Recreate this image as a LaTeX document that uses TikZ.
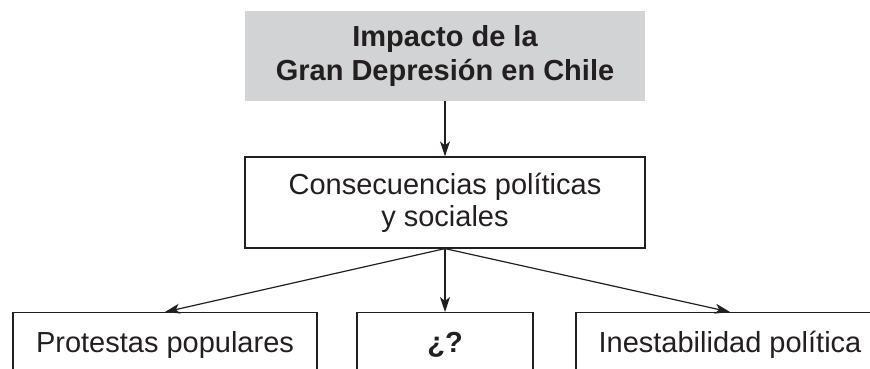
\documentclass[tikz,border=0pt]{standalone}
\usepackage{fontspec}
\setmainfont{Liberation Sans}
\usetikzlibrary{arrows.meta}
\definecolor{boxgray}{HTML}{D1D3D4}
\definecolor{ink}{HTML}{231F20}

\begin{document}
\begin{tikzpicture}[x=1pt, y=-1pt,
		box/.style={draw=ink, line width=1.2pt, align=center, text=ink, font=\fontsize{29}{32}\selectfont},
		arr/.style={draw=ink, line width=1.2pt, -{Stealth[length=15pt, width=10pt, inset=4pt]}}]
		\useasboundingbox (0,0) rectangle (870,369);
		\clip (0,0) rectangle (870,369);

		% Title
		\node[fill=boxgray, align=center, text=ink, minimum width=400pt, minimum height=90pt, font=\bfseries\fontsize{29}{34}\selectfont] (impacto) at (445,56) {Impacto de la\\Gran Depresión en Chile};

		% Nodes
		\node[box, minimum width=400pt, minimum height=91pt] (consecuencias) at (445,202.5) {Consecuencias políticas\\y sociales};
		\foreach \name/\x/\w/\txt in {protestas/165/304/Protestas populares, pregunta/445/176/{\textbf{¿?}}, inestabilidad/730/308/Inestabilidad política}
			{
				\node[box, anchor=north, minimum width=\w pt, minimum height=65pt, text height=21pt, text depth=6pt] (\name) at (\x,312) {\txt};
			}

		% Edges
		\draw[arr] (impacto) -- (consecuencias);
		\foreach \name in {protestas, pregunta, inestabilidad}
		\draw[arr] (consecuencias.south) -- (\name.north);
	\end{tikzpicture}
\end{document}
